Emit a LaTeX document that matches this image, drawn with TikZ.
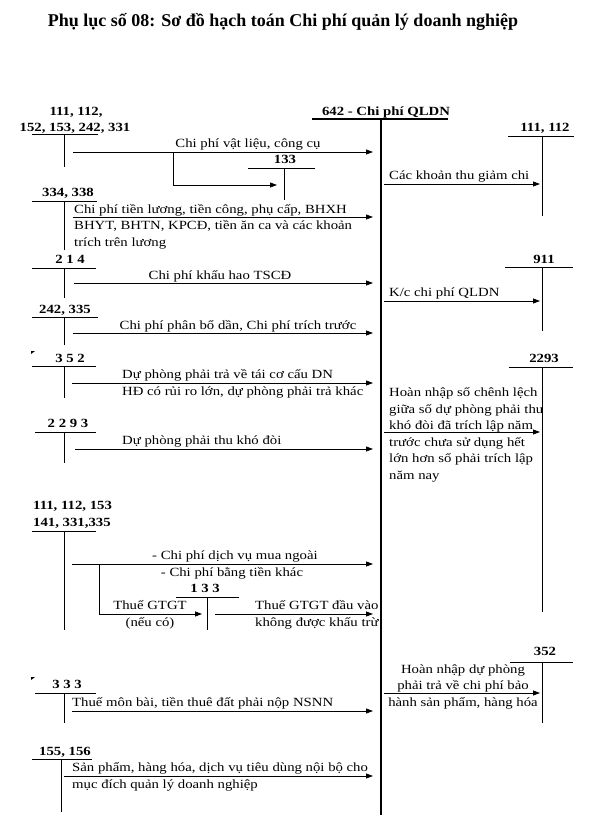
\documentclass[tikz,border=0pt]{standalone}
\usepackage{fontspec}
\setmainfont{Liberation Serif}[FakeStretch=1.18]
\newfontfamily\titlefont{Liberation Serif}
\usetikzlibrary{arrows.meta}
\newcommand{\diagfont}{\fontsize{12.5}{16.5}\selectfont}
\tikzset{
  acc/.style={font=\diagfont\bfseries, inner sep=0pt, anchor=base},
  lbl/.style={font=\diagfont, inner sep=0pt, anchor=base west, align=left},
  clbl/.style={font=\diagfont, inner sep=0pt, anchor=base, align=center},
  tacc/.style={line width=0.9pt},
  post/.style={line width=0.8pt, -{Triangle[length=7pt,width=5pt]}},
  into/.style={post, shorten >=8pt},
  outof/.style={post, shorten <=3pt, shorten >=2pt}
}

\begin{document}
\begin{tikzpicture}[x=1pt, y=-1pt]
  \useasboundingbox (0,0) rectangle (597,827);

  % Title
  \node[acc, font=\titlefont\fontsize{18}{20}\selectfont\bfseries] (title) at (283,26)
    {Phụ lục số 08: Sơ đồ hạch toán Chi phí quản lý doanh nghiệp};

  % Account 642 (centre)
  \node[acc] (n642) at (386,115) {642 - Chi phí QLDN};
  \coordinate (m0) at (381,119);
  \coordinate (m1) at (381,815);
  \draw[line width=1.6pt] (312,119) -- (448,119);
  \draw[line width=2.2pt] (m0) -- (m1);
  \coordinate (r0) at (542,0);

  %%% Left side (multi-line labels sit on the baseline of their last line)
  % 111, 112, 152, 153, 242, 331
  \node[acc] (a111) at (76,115) {111, 112,};
  \node[acc] (a152) at (75,131) {152, 153, 242, 331};
  \draw[tacc] (32,134) -- (98,134) (64,134) -- (64,167);
  \coordinate (s1) at (73,152);
  \draw[into] (s1) -- (s1 -| m0);
  \node[clbl] (t1) at (248,147) {Chi phí vật liệu, công cụ};
  % branch to 133
  \coordinate (b1) at (173,152);
  \coordinate (b1e) at (277,185);
  \draw[post] (b1) |- (b1e);
  \node[acc] (a133) at (285,163) {133};
  \draw[tacc] (248,168) -- (315,168) (284,168) -- (284,200);

  % 334, 338
  \node[acc] (a334) at (68,196) {334, 338};
  \draw[tacc] (32,201) -- (97,201) (64,201) -- (64,250);
  \coordinate (s2) at (73,217);
  \draw[into] (s2) -- (s2 -| m0);
  \node[lbl] (t2) at (74,246) {Chi phí tiền lương, tiền công, phụ cấp, BHXH\\
    BHYT, BHTN, KPCĐ, tiền ăn ca và các khoản\\trích trên lương};

  % 214
  \node[acc] (a214) at (70,263) {2 1 4};
  \draw[tacc] (32,268) -- (96,268) (64,268) -- (64,298);
  \coordinate (s3) at (74,283);
  \draw[into] (s3) -- (s3 -| m0);
  \node[clbl] (t3) at (220,279) {Chi phí khấu hao TSCĐ};

  % 242, 335
  \node[acc] (a242) at (65,313) {242, 335};
  \draw[tacc] (32,317) -- (98,317) (64,317) -- (64,345);
  \coordinate (s4) at (73,333);
  \draw[into] (s4) -- (s4 -| m0);
  \node[clbl] (t4) at (238,329) {Chi phí phân bổ dần, Chi phí trích trước};

  % 352
  \fill (31,351) -- (35,351) -- (31,354) -- cycle;
  \node[acc] (a352) at (70,362) {3 5 2};
  \draw[tacc] (32,366) -- (96,366) (64,366) -- (64,398);
  \coordinate (s5) at (72,383);
  \draw[into] (s5) -- (s5 -| m0);
  \node[lbl] (t5) at (122,395) {Dự phòng phải trả về tái cơ cấu DN\\
    HĐ có rủi ro lớn, dự phòng phải trả khác};

  % 2293
  \node[acc] (a2293) at (68,427) {2 2 9 3};
  \draw[tacc] (35,432) -- (96,432) (64,432) -- (64,463);
  \coordinate (s6) at (75,449);
  \draw[into] (s6) -- (s6 -| m0);
  \node[lbl] (t6) at (122,444) {Dự phòng phải thu khó đòi};

  % 111, 112, 153, 141, 331, 335
  \node[lbl, font=\diagfont\bfseries] (a141) at (33,526) {111, 112, 153\\141, 331,335};
  \draw[tacc] (32,531) -- (96,531) (64,531) -- (64,630);
  \coordinate (s7) at (72,564);
  \draw[into] (s7) -- (s7 -| m0);
  \node[clbl] (t7a) at (235,559) {- Chi phí dịch vụ mua ngoài};
  \node[clbl] (t7b) at (232,576) {- Chi phí bằng tiền khác};
  % branch to 133
  \coordinate (b2) at (99,564);
  \coordinate (b2e) at (202,614);
  \draw[post] (b2) |- (b2e);
  \node[clbl] (t8) at (150,626) {Thuế GTGT\\(nếu có)};
  \node[acc] (b133) at (205,592) {1 3 3};
  \draw[tacc] (176,597) -- (239,597) (207,597) -- (207,630);
  \coordinate (s8) at (215,614);
  \draw[into] (s8) -- (s8 -| m0);
  \node[lbl] (t9) at (255,626) {Thuế GTGT đầu vào\\không được khấu trừ};

  % 333
  \fill (31,677) -- (35,677) -- (31,680) -- cycle;
  \node[acc] (a333) at (67,688) {3 3 3};
  \draw[tacc] (35,693) -- (96,693) (64,693) -- (64,723);
  \coordinate (s9) at (72,711);
  \draw[into] (s9) -- (s9 -| m0);
  \node[lbl] (t10) at (72,706) {Thuế môn bài, tiền thuê đất phải nộp NSNN};

  % 155, 156
  \node[acc] (a155) at (65,755) {155, 156};
  \draw[tacc] (32,759) -- (92,759) (61,759) -- (61,812);
  \coordinate (s10) at (64,776);
  \draw[into] (s10) -- (s10 -| m0);
  \node[lbl] (t11) at (72,788) {Sản phẩm, hàng hóa, dịch vụ tiêu dùng nội bộ cho\\
    mục đích quản lý doanh nghiệp};

  %%% Right side
  % 111, 112
  \node[acc] (r111) at (545,131) {111, 112};
  \draw[tacc] (508,136) -- (574,136) (542,136) -- (542,216);
  \coordinate (q1) at (381,184);
  \draw[outof] (q1) -- (q1 -| r0);
  \node[lbl] (u1) at (389,179) {Các khoản thu giảm chi};

  % 911
  \node[acc] (r911) at (544,263) {911};
  \draw[tacc] (505,267) -- (573,267) (542,267) -- (542,331);
  \coordinate (q2) at (381,301);
  \draw[outof] (q2) -- (q2 -| r0);
  \node[lbl] (u2) at (389,296) {K/c chi phí QLDN};

  % 2293
  \node[acc] (r2293) at (544,362) {2293};
  \draw[tacc] (509,367) -- (573,367) (542,367) -- (542,612);
  \coordinate (q3) at (381,432);
  \draw[outof] (q3) -- (q3 -| r0);
  \node[lbl] (u3) at (389,479) {Hoàn nhập số chênh lệch\\giữa số dự phòng phải thu\\
    khó đòi đã trích lập năm\\trước chưa sử dụng hết\\lớn hơn số phải trích lập\\năm nay};

  % 352
  \node[acc] (r352) at (545,655) {352};
  \draw[tacc] (510,662) -- (573,662) (542,662) -- (542,723);
  \coordinate (q4) at (381,693);
  \draw[outof] (q4) -- (q4 -| r0);
  \node[clbl] (u4) at (463,706) {Hoàn nhập dự phòng\\phải trả về chi phí bảo\\hành sản phẩm, hàng hóa};

\end{tikzpicture}
\end{document}
